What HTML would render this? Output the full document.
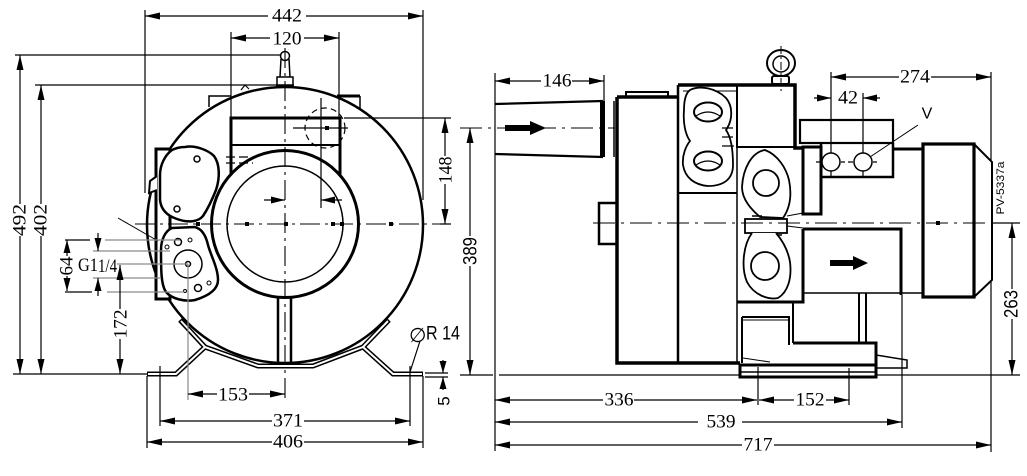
<!DOCTYPE html>
<html><head><meta charset="utf-8">
<style>
html,body{margin:0;padding:0;background:#fff;}
svg{display:block;}
.t{font-family:"Liberation Serif",serif;font-size:19px;fill:#000;stroke:none;}
.s{font-family:"Liberation Sans",sans-serif;fill:#000;stroke:none;}
</style></head><body>
<svg width="1027" height="476" viewBox="0 0 1027 476" xmlns="http://www.w3.org/2000/svg">
<rect width="1027" height="476" fill="#fff"/>

<!-- ================= LEFT VIEW ================= -->
<g fill="none" stroke="#000">
  <circle cx="285" cy="225" r="138" stroke-width="2.5"/>
  <path d="M209,107 L209,96 L231,96" stroke-width="1.5"/>
  <path d="M337,96 L360,96" stroke-width="3"/>
  <path d="M360,96 L360,108" stroke-width="1.5"/>
  <path d="M241,90 L245,85 L249,89" stroke-width="1.2"/>
  <path d="M231,178 L231,118 L340,118 L340,178" stroke-width="3"/>
  <path d="M231,145 L340,145" stroke-width="2"/>
  <circle cx="285" cy="224" r="73.5" stroke-width="3" fill="#fff"/>
  <circle cx="285" cy="224" r="58" stroke-width="1.5"/>
  <path d="M226,157 L253,157 M226,163 L253,163" stroke-width="1.2" stroke-dasharray="9 4"/>
  <circle cx="285" cy="56" r="4.5" stroke-width="1.5" fill="#fff"/>
  <path d="M281,59 L280,77 M289,59 L290,77" stroke-width="1.5"/>
  <rect x="277" y="77" width="16" height="8" stroke-width="1.5" fill="#fff"/>
  <path d="M276,86 L294,86" stroke-width="3"/>
  <circle cx="325" cy="128" r="20" stroke-width="1.2" stroke-dasharray="6 4"/>
  <path d="M293,128 L348,128" stroke-width="1.2"/>
  <path d="M321,98 L321,208" stroke-width="1.2"/>
  <path d="M278,297 L278,364 M291,297 L291,364" stroke-width="2.5"/>
  <g stroke-linejoin="miter">
    <polyline points="147,374 176,374 205,347 258,366 313,366 363,347 393,374 423,374" stroke-width="5"/>
    <polyline points="180,320 205,347" stroke-width="5"/>
    <polyline points="389,320 363,347" stroke-width="5"/>
    <polyline points="148,374 176,374 205,347 258,366 313,366 363,347 393,374 422,374" stroke="#fff" stroke-width="2"/>
    <polyline points="181,321 205,347" stroke="#fff" stroke-width="2"/>
    <polyline points="388,321 363,347" stroke="#fff" stroke-width="2"/>
  </g>
  <rect x="156" y="149" width="14" height="150" stroke-width="3" fill="#fff"/>
  <path d="M157,176 L150,181 L149,193 L157,190" stroke-width="2" fill="#fff"/>
  <path d="M185,147 C195,145 208,150 214,156 C220,164 220,178 216,190 C212,200 207,210 203,216 C198,222 188,223 177,219 C168,216 161,210 160,200 L160,175 C160,165 165,155 172,150 C176,148 180,147 185,147 Z" stroke-width="2.5" fill="#fff"/>
  <circle cx="197" cy="159" r="3" stroke-width="1.5"/>
  <circle cx="177" cy="209" r="3" stroke-width="1.5"/>
  <path d="M172,228 L195,227 C202,229 206,236 208,245 C211,256 218,268 218,280 C218,290 208,296 195,300 C185,302 172,299 166,292 C161,285 161,270 161,250 C161,240 165,231 172,228 Z" stroke-width="2.5" fill="#fff"/>
  <circle cx="178" cy="242" r="3.5" stroke-width="1.5"/>
  <circle cx="190" cy="240" r="2" stroke-width="1"/>
  <circle cx="167" cy="247" r="2" stroke-width="1"/>
  <circle cx="188" cy="264" r="14" stroke-width="1.5"/>
  <circle cx="188" cy="264" r="2.5" stroke-width="1.5"/>
  <circle cx="198" cy="288" r="3.5" stroke-width="1.5"/>
  <circle cx="209" cy="283" r="2" stroke-width="1"/>
  <circle cx="185" cy="291" r="1.5" stroke-width="1"/>
  <path d="M118,218 L158,241" stroke-width="1"/>
  <g stroke="#8a8a8a" stroke-width="1.2">
    <path d="M105,240 L180,240"/>
    <path d="M93,251 L170,251"/>
    <path d="M117,264 L188,264"/>
    <path d="M93,278 L160,278"/>
    <path d="M107,292 L184,292"/>
    <path d="M188,264 L188,400"/>
  </g>
  <path d="M135,224 L450,224" stroke-width="1.1" stroke-dasharray="20 5 3 5"/>
  <path d="M285,48 L285,400" stroke-width="1.1" stroke-dasharray="20 5 3 5"/>
</g>
<g fill="#000">
  <rect x="196" y="222" width="4" height="4"/>
  <rect x="245" y="222" width="4" height="4"/>
  <rect x="284" y="222" width="4" height="4"/>
  <rect x="331" y="222" width="4" height="4"/>
  <rect x="340" y="222" width="4" height="4"/>
  <rect x="389" y="222" width="4" height="4"/>
  <rect x="325" y="126" width="4" height="4"/>
</g>

<g fill="none" stroke="#000" stroke-width="1.2">
  <path d="M145,10 L145,193 M423,10 L423,200"/>
  <path d="M231,32 L231,118 M339,32 L339,118"/>
  <path d="M15,55 L280,55 M35,85 L278,85"/>
  <path d="M344,118 L451,118 M440,224 L451,224"/>
  <path d="M13,374 L147,374"/>
  <path d="M65,240 L90,240 M65,292 L92,292"/>
  <path d="M160,366 L160,426 M410,366 L410,426"/>
  <path d="M147,376 L147,448 M423,376 L423,448"/>
  <path d="M425,373 L448,373 M425,377 L448,377"/>
  <path d="M420,341 L410,372"/>
  <path d="M145,16 L268,16 M306,16 L423,16"/>
  <path d="M231,38 L270,38 M304,38 L339,38"/>
  <path d="M20,55 L20,204 M20,236 L20,374"/>
  <path d="M41,85 L41,204 M41,236 L41,374"/>
  <path d="M445,118 L445,156 M445,184 L445,224"/>
  <path d="M264,200 L285,200 M342,200 L321,200"/>
  <path d="M67,240 L67,256 M67,276 L67,291"/>
  <path d="M98,233 L98,251 M98,278 L98,296"/>
  <path d="M120,265 L120,309 M120,339 L120,374"/>
  <path d="M188,394 L217,394 M249,394 L285,394"/>
  <path d="M160,421 L272,421 M304,421 L410,421"/>
  <path d="M147,442 L272,442 M304,442 L423,442"/>
  <path d="M443,360 L443,373 M443,377 L443,390"/>
</g>
<g fill="#000">
  <polygon points="145,16 160,12.5 160,19.5"/>
  <polygon points="423,16 408,12.5 408,19.5"/>
  <polygon points="231,38 246,34.5 246,41.5"/>
  <polygon points="339,38 324,34.5 324,41.5"/>
  <polygon points="20,55 16.5,70 23.5,70"/>
  <polygon points="20,374 16.5,359 23.5,359"/>
  <polygon points="41,85 37.5,100 44.5,100"/>
  <polygon points="41,374 37.5,359 44.5,359"/>
  <polygon points="445,118 441.5,133 448.5,133"/>
  <polygon points="445,224 441.5,209 448.5,209"/>
  <polygon points="285,200 271,196.5 271,203.5"/>
  <polygon points="321,200 335,196.5 335,203.5"/>
  <polygon points="67,240 63.5,253 70.5,253"/>
  <polygon points="67,291 63.5,278 70.5,278"/>
  <polygon points="98,251 94.5,238 101.5,238"/>
  <polygon points="98,278 94.5,291 101.5,291"/>
  <polygon points="120,265 116.5,280 123.5,280"/>
  <polygon points="120,374 116.5,359 123.5,359"/>
  <polygon points="188,394 203,390.5 203,397.5"/>
  <polygon points="285,394 270,390.5 270,397.5"/>
  <polygon points="160,421 175,417.5 175,424.5"/>
  <polygon points="410,421 395,417.5 395,424.5"/>
  <polygon points="147,442 162,438.5 162,445.5"/>
  <polygon points="423,442 408,438.5 408,445.5"/>
  <polygon points="443,373 439.5,361 446.5,361"/>
  <polygon points="443,377 439.5,389 446.5,389"/>
</g>
<text class="t" x="287" y="16" text-anchor="middle" dominant-baseline="central" textLength="30" lengthAdjust="spacingAndGlyphs">442</text>
<text class="t" x="287" y="39" text-anchor="middle" dominant-baseline="central" textLength="29" lengthAdjust="spacingAndGlyphs">120</text>
<text class="t" font-size="21" x="20" y="220" text-anchor="middle" dominant-baseline="central" transform="rotate(-90 20 220)" textLength="32" lengthAdjust="spacingAndGlyphs">492</text>
<text class="t" font-size="21" x="41" y="220" text-anchor="middle" dominant-baseline="central" transform="rotate(-90 41 220)" textLength="32" lengthAdjust="spacingAndGlyphs">402</text>
<text class="t" x="446" y="170" text-anchor="middle" dominant-baseline="central" transform="rotate(-90 446 170)" textLength="27" lengthAdjust="spacingAndGlyphs">148</text>
<text class="t" font-size="20" x="67" y="266" text-anchor="middle" dominant-baseline="central" transform="rotate(-90 67 266)" textLength="19" lengthAdjust="spacingAndGlyphs">64</text>
<text class="t" font-size="18" x="78" y="271" textLength="20" lengthAdjust="spacingAndGlyphs">G1</text>
<text class="t" font-size="13" x="98" y="272" textLength="19" lengthAdjust="spacingAndGlyphs">1/4</text>
<text class="t" font-size="20" x="121" y="324" text-anchor="middle" dominant-baseline="central" transform="rotate(-90 121 324)" textLength="29" lengthAdjust="spacingAndGlyphs">172</text>
<text class="t" x="233" y="395" text-anchor="middle" dominant-baseline="central" textLength="30" lengthAdjust="spacingAndGlyphs">153</text>
<text class="t" x="288" y="421" text-anchor="middle" dominant-baseline="central" textLength="30" lengthAdjust="spacingAndGlyphs">371</text>
<text class="t" x="288" y="442" text-anchor="middle" dominant-baseline="central" textLength="30" lengthAdjust="spacingAndGlyphs">406</text>
<text class="s" font-size="20" x="409" y="335" dominant-baseline="central" style="font-family:'DejaVu Sans',sans-serif">∅</text>
<text class="s" font-size="19" x="426" y="334" dominant-baseline="central" textLength="34" lengthAdjust="spacingAndGlyphs">R 14</text>
<text class="s" font-size="17" x="444" y="401" text-anchor="middle" dominant-baseline="central" transform="rotate(-90 444 401)">5</text>

<!-- ================= RIGHT VIEW ================= -->
<g fill="none" stroke="#000">
  <path d="M495,104 L603,101 M495,154 L603,157" stroke-width="2.2"/>
  <path d="M614,101 L614,157" stroke-width="1.5"/>
  <rect x="600" y="101" width="5" height="56" fill="#000" stroke="none"/>
  <path d="M617,97 L617,363 L740,363" stroke-width="3.5"/>
  <path d="M617,97 L678,97" stroke-width="3.5"/>
  <rect x="626" y="92" width="42" height="5" stroke-width="2"/>
  <path d="M617,203 L599,203 L599,244 L617,244" stroke-width="2.5"/>
  <path d="M678,85 L795,85 L795,148 L803,148" stroke-width="3.5"/>
  <path d="M678,85 L678,363" stroke-width="2.5"/>
  <path d="M737,85 L737,147 L795,147" stroke-width="2"/>
  <path d="M737,147 L737,363" stroke-width="1.5"/>
  <path d="M678,193 L737,193" stroke-width="2"/>
  <path d="M683,91 L737,91" stroke-width="1"/>
  <path d="M690,90 C700,85 716,88 726,98 C733,106 733,120 726,130 C731,137 733,150 733,165 C733,178 725,186 708,186 C695,185 685,178 683,165 C682,155 686,146 690,141 C685,134 683,122 684,110 C684,100 686,93 690,90 Z" stroke-width="1.8" fill="#fff"/>
  <path d="M722,128 L733,128 M722,137 L733,137 M722,146 L734,146" stroke-width="1.2"/>
  <ellipse cx="708" cy="112" rx="14" ry="9.5" stroke-width="2"/>
  <path d="M696,116 Q708,108 720,116" stroke-width="1.2"/>
  <ellipse cx="708" cy="161" rx="14" ry="9.5" stroke-width="2"/>
  <path d="M696,165 Q708,157 720,165" stroke-width="1.2"/>
  <path d="M765,150 C752,152 743,168 742,187 C742,200 752,210 760,217 L783,218 C790,208 792,195 789,180 C786,168 778,155 765,150 Z" stroke-width="1.8" fill="#fff"/>
  <circle cx="766" cy="183" r="13" stroke-width="1.8"/>
  <rect x="745" y="219" width="42" height="14" stroke-width="1.8" fill="#fff"/>
  <path d="M752,216 L762,216 M770,235 L782,235" stroke-width="1.5"/>
  <path d="M752,233 C743,245 741,268 747,282 C754,295 768,300 778,298 C788,292 792,278 790,262 C788,250 782,240 776,233" stroke-width="1.8" fill="#fff"/>
  <circle cx="765" cy="266" r="14" stroke-width="1.8"/>
  <path d="M787,216 L803,213 M787,226 L803,228" stroke-width="1"/>
  <rect x="803" y="147" width="18" height="67" stroke-width="3"/>
  <path d="M803,229 L803,302 L737,302" stroke-width="3"/>
  <path d="M803,229 L901,229 L901,295" stroke-width="3"/>
  <path d="M803,293 L923,293" stroke-width="1.5"/>
  <rect x="800" y="120" width="93" height="23" stroke-width="2.2"/>
  <path d="M821,143 L821,177 L893,177 L893,143" stroke-width="2.5"/>
  <path d="M893,149 L923,149" stroke-width="3"/>
  <rect x="923" y="144" width="51" height="153" stroke-width="3.2"/>
  <path d="M974,144 L992,162 L992,280 L974,297" stroke-width="2"/>
  <path d="M859,293 L859,343 M866,293 L866,343" stroke-width="2"/>
  <path d="M793,302 L793,343" stroke-width="2"/>
  <path d="M793,343 L876,343 L876,365" stroke-width="3"/>
  <path d="M742,317 L789,317 L789,345" stroke-width="2"/>
  <path d="M742,320 L789,320" stroke-width="1"/>
  <path d="M742,317 L742,363" stroke-width="2"/>
  <path d="M743,358 L770,362" stroke-width="1"/>
  <rect x="740" y="365" width="136" height="12" stroke-width="3"/>
  <path d="M740,372 L876,372" stroke-width="1.5"/>
  <path d="M876,355 L907,360 L907,368 L876,368" stroke-width="1.5"/>
  <ellipse cx="781" cy="63" rx="14" ry="13" stroke-width="2"/>
  <circle cx="781" cy="64" r="8" stroke-width="1.5"/>
  <rect x="772" y="76" width="17" height="8" rx="2" stroke-width="2" fill="#fff"/>
  <path d="M781,46 L781,92" stroke-width="1" stroke-dasharray="8 3 2 3"/>
  <path d="M593,223 L1020,223" stroke-width="1.1" stroke-dasharray="22 6 3 6"/>
  <path d="M460,128 L615,128" stroke-width="1.1" stroke-dasharray="22 6 3 6"/>
  <path d="M460,375 L493,375 M499,375 L740,375 M876,375 L1020,375" stroke-width="1.2"/>
  <path d="M831,72 L831,176 M863,93 L863,176" stroke-width="1.2"/>
  <circle cx="831" cy="162" r="9" stroke-width="1.5" fill="#fff"/>
  <circle cx="863" cy="162" r="9" stroke-width="1.5" fill="#fff"/>
  <path d="M816,162 L821,162 M841,162 L845,162 M848,162 L853,162 M873,162 L877,162" stroke-width="1.2"/>
  <path d="M870,157 L918,125" stroke-width="1"/>
</g>
<g fill="#000">
  <rect x="936" y="221" width="4" height="4"/>
  <polygon points="505,125 530,125 530,121 546,128 530,135 530,131 505,131"/>
  <polygon points="830,260 853,260 853,256 868,263 853,270 853,266 830,266"/>
</g>
<g fill="none" stroke="#000" stroke-width="1.2">
  <path d="M495,73 L495,451"/>
  <path d="M604,75 L604,101"/>
  <path d="M991,72 L991,162 M991,280 L991,452"/>
  <path d="M991,223 L1020,223"/>
  <path d="M758,367 L758,405 M849,368 L849,405"/>
  <path d="M902,295 L902,428"/>
  <path d="M495,81 L541,81 M572,81 L604,81"/>
  <path d="M470,128 L470,236 M470,266 L470,375"/>
  <path d="M831,77 L899,77 M931,77 L991,77"/>
  <path d="M814,98 L831,98 M880,98 L863,98"/>
  <path d="M1012,223 L1012,289 M1012,319 L1012,375"/>
  <path d="M495,400 L603,400 M634,400 L757,400"/>
  <path d="M759,400 L794,400 M826,400 L849,400"/>
  <path d="M495,422 L698,422 M742,422 L902,422"/>
  <path d="M495,445 L742,445 M774,445 L991,445"/>
</g>
<g fill="#000">
  <polygon points="495,81 510,77.5 510,84.5"/>
  <polygon points="604,81 589,77.5 589,84.5"/>
  <polygon points="470,128 466.5,143 473.5,143"/>
  <polygon points="470,375 466.5,360 473.5,360"/>
  <polygon points="831,77 846,73.5 846,80.5"/>
  <polygon points="991,77 976,73.5 976,80.5"/>
  <polygon points="831,98 817,94.5 817,101.5"/>
  <polygon points="863,98 877,94.5 877,101.5"/>
  <polygon points="1012,223 1008.5,238 1015.5,238"/>
  <polygon points="1012,375 1008.5,360 1015.5,360"/>
  <polygon points="495,400 510,396.5 510,403.5"/>
  <polygon points="757,400 742,396.5 742,403.5"/>
  <polygon points="759,400 774,396.5 774,403.5"/>
  <polygon points="849,400 834,396.5 834,403.5"/>
  <polygon points="495,422 510,418.5 510,425.5"/>
  <polygon points="902,422 887,418.5 887,425.5"/>
  <polygon points="495,445 510,441.5 510,448.5"/>
  <polygon points="991,445 976,441.5 976,448.5"/>
</g>
<text class="t" x="557" y="81" text-anchor="middle" dominant-baseline="central" textLength="29" lengthAdjust="spacingAndGlyphs">146</text>
<text class="s" font-size="19" x="471" y="251" text-anchor="middle" dominant-baseline="central" transform="rotate(-90 471 251)" textLength="28" lengthAdjust="spacingAndGlyphs">389</text>
<text class="t" x="915" y="77" text-anchor="middle" dominant-baseline="central" textLength="30" lengthAdjust="spacingAndGlyphs">274</text>
<text class="t" x="848" y="98" text-anchor="middle" dominant-baseline="central" textLength="20" lengthAdjust="spacingAndGlyphs">42</text>
<text class="s" font-size="16" x="927" y="114" text-anchor="middle" dominant-baseline="central">V</text>
<text class="s" font-size="11" x="1001" y="188" text-anchor="middle" dominant-baseline="central" transform="rotate(-90 1001 188)" textLength="53" lengthAdjust="spacingAndGlyphs">PV-5337a</text>
<text class="s" font-size="19" x="1012" y="304" text-anchor="middle" dominant-baseline="central" transform="rotate(-90 1012 304)" textLength="28" lengthAdjust="spacingAndGlyphs">263</text>
<text class="t" x="619" y="400" text-anchor="middle" dominant-baseline="central" textLength="29" lengthAdjust="spacingAndGlyphs">336</text>
<text class="t" x="810" y="400" text-anchor="middle" dominant-baseline="central" textLength="29" lengthAdjust="spacingAndGlyphs">152</text>
<text class="t" x="721" y="422" text-anchor="middle" dominant-baseline="central" textLength="29" lengthAdjust="spacingAndGlyphs">539</text>
<text class="t" x="758" y="445" text-anchor="middle" dominant-baseline="central" textLength="29" lengthAdjust="spacingAndGlyphs">717</text>
</svg>
</body></html>
